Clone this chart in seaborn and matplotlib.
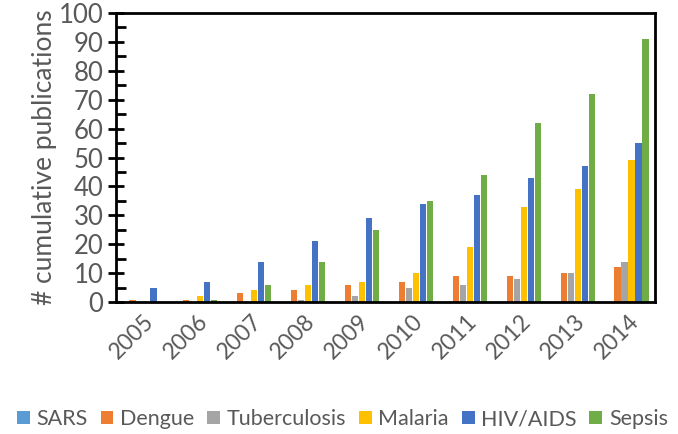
import pandas as pd
import matplotlib.pyplot as plt
import seaborn as sns
from matplotlib.ticker import MultipleLocator

years = ["2005", "2006", "2007", "2008", "2009", "2010", "2011", "2012", "2013", "2014"]
diseases = ["SARS", "Dengue", "Tuberculosis", "Malaria", "HIV/AIDS", "Sepsis"]
sars = [0, 0, 0, 0, 0, 0, 0, 0, 0, 0]
dengue = [0.6, 0.6, 3, 4, 6, 7, 9, 9, 10, 12]
tuberculosis = [0, 0, 0, 0.6, 2, 5, 6, 8, 10, 14]
malaria = [0, 2, 4, 6, 7, 10, 19, 33, 39, 49]
hiv = [5, 7, 14, 21, 29, 34, 37, 43, 47, 55]
sepsis = [0, 0.6, 6, 14, 25, 35, 44, 62, 72, 91]
colors = ["#5B9BD5", "#ED7D31", "#A5A5A5", "#FFC000", "#4472C4", "#70AD47"]

series = [sars, dengue, tuberculosis, malaria, hiv, sepsis]
rows = []
for name, vals in zip(diseases, series):
    for yr, v in zip(years, vals):
        rows.append({"Year": yr, "Disease": name, "Count": v})
df = pd.DataFrame(rows)

sns.set_style("white")
plt.rcParams["font.family"] = ["Lato", "DejaVu Sans"]
txt = "#595959"

fig = plt.figure(figsize=(6.78, 4.34), dpi=100)
ax = fig.add_axes([116 / 678, 1 - 302 / 434, 539 / 678, 289 / 434])

sns.barplot(data=df, x="Year", y="Count", hue="Disease", palette=colors,
            hue_order=diseases, order=years, width=0.78, gap=0.12, ax=ax,
            linewidth=0, saturation=1)

ax.set_ylim(0, 100)
ax.set_xlim(-0.5, 9.5)
ax.yaxis.set_major_locator(MultipleLocator(10))
ax.yaxis.set_minor_locator(MultipleLocator(5))
ax.tick_params(axis="y", which="major", direction="inout", length=12, width=2,
               color="black", labelsize=18.5, labelcolor=txt, left=True, pad=3)
ax.tick_params(axis="y", which="minor", direction="in", length=7, width=2,
               color="black", left=True)
ax.tick_params(axis="x", length=0, labelsize=16.5, labelcolor=txt, pad=6)
for lab in ax.get_xticklabels():
    lab.set_rotation(45)
    lab.set_ha("right")
    lab.set_rotation_mode("anchor")

ax.set_xlabel("")
ax.set_ylabel("# cumulative publications", fontsize=19, color=txt, labelpad=1)

for side in ["left", "bottom", "top", "right"]:
    ax.spines[side].set_visible(True)
    ax.spines[side].set_color("black")
    ax.spines[side].set_linewidth(2)

handles, labels = ax.get_legend_handles_labels()
ax.legend_.remove()
fig.legend(handles, labels, loc="center", bbox_to_anchor=(0.505, 1 - 419 / 434),
           ncol=6, frameon=False, fontsize=15.5, handlelength=0.6, handleheight=0.6,
           handletextpad=0.3, columnspacing=0.6, labelcolor=txt)

fig.savefig("out.png", dpi=100)
